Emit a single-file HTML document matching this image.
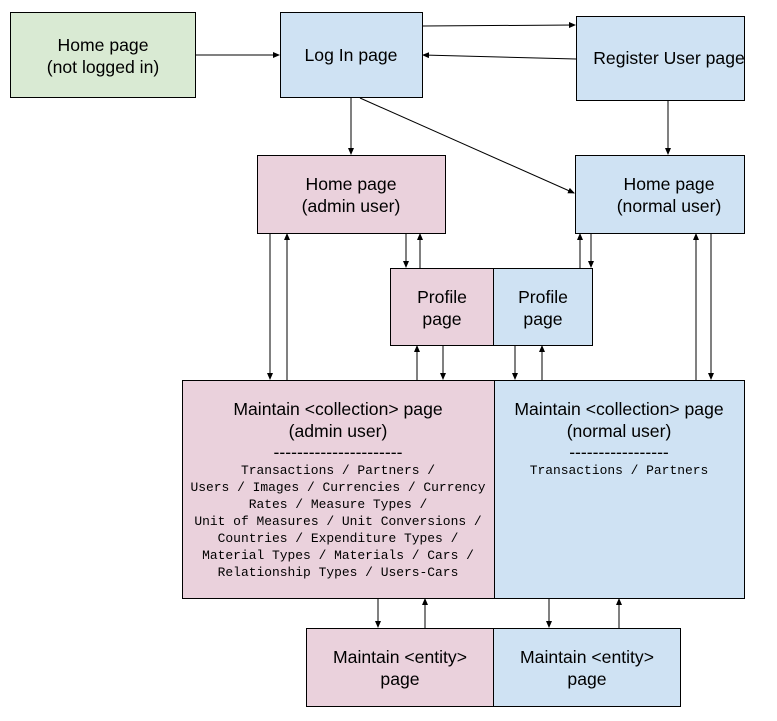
<!DOCTYPE html>
<html><head><meta charset="utf-8"><style>body{margin:0;background:#fff}svg{display:block}</style></head><body>
<svg width="777" height="721" xmlns="http://www.w3.org/2000/svg" font-family="Liberation Sans, sans-serif" font-size="17.6">
<defs><marker id="a" markerWidth="7" markerHeight="6" refX="6" refY="3" orient="auto" markerUnits="userSpaceOnUse"><path d="M0,0L7,3L0,6z" fill="#000"/></marker></defs>
<g stroke="#000" stroke-width="1">
<rect x="10.5" y="12.5" width="185" height="85" fill="#d9ead3"/>
<rect x="280.5" y="12.5" width="142" height="85" fill="#cfe2f3"/>
<rect x="576.5" y="16.5" width="168" height="84" fill="#cfe2f3"/>
<rect x="257.5" y="155.5" width="188" height="78" fill="#ead1dc"/>
<rect x="575.5" y="155.5" width="169" height="78" fill="#cfe2f3"/>
<rect x="390.5" y="268.5" width="103" height="77" fill="#ead1dc"/>
<rect x="493.5" y="268.5" width="99" height="77" fill="#cfe2f3"/>
<rect x="182.5" y="380.5" width="312" height="218" fill="#ead1dc"/>
<rect x="494.5" y="380.5" width="250" height="218" fill="#cfe2f3"/>
<rect x="306.5" y="628.5" width="187" height="78" fill="#ead1dc"/>
<rect x="493.5" y="628.5" width="187" height="78" fill="#cfe2f3"/>
</g>
<g stroke="#000" stroke-width="1" marker-end="url(#a)" fill="none">
<line x1="196" y1="55" x2="279" y2="55"/>
<line x1="423" y1="26" x2="575" y2="25"/>
<line x1="576" y1="59" x2="423" y2="55"/>
<line x1="351" y1="98" x2="351" y2="154"/>
<line x1="360" y1="98" x2="574" y2="193"/>
<line x1="668" y1="101" x2="668" y2="154"/>
<line x1="270" y1="234" x2="270" y2="379"/>
<line x1="287" y1="380" x2="287" y2="234"/>
<line x1="406" y1="234" x2="406" y2="267"/>
<line x1="420" y1="268" x2="420" y2="234"/>
<line x1="580" y1="268" x2="580" y2="234"/>
<line x1="591" y1="234" x2="591" y2="267"/>
<line x1="696" y1="380" x2="696" y2="234"/>
<line x1="711" y1="234" x2="711" y2="379"/>
<line x1="417" y1="380" x2="417" y2="346"/>
<line x1="443" y1="346" x2="443" y2="379"/>
<line x1="515" y1="346" x2="515" y2="379"/>
<line x1="542" y1="380" x2="542" y2="346"/>
<line x1="378" y1="599" x2="378" y2="627"/>
<line x1="425" y1="628" x2="425" y2="599"/>
<line x1="549" y1="599" x2="549" y2="627"/>
<line x1="619" y1="628" x2="619" y2="599"/>
</g>
<g text-anchor="middle" fill="#000">
<text x="103" y="51">Home page</text><text x="103" y="73">(not logged in)</text>
<text x="351" y="61">Log In page</text>
<text x="669" y="64">Register User page</text>
<text x="351" y="190">Home page</text><text x="351" y="212">(admin user)</text>
<text x="669" y="190">Home page</text><text x="669" y="212">(normal user)</text>
<text x="442" y="303">Profile</text><text x="442" y="325">page</text>
<text x="543" y="303">Profile</text><text x="543" y="325">page</text>
<text x="338" y="415">Maintain &lt;collection&gt; page</text><text x="338" y="437">(admin user)</text><text x="338" y="458">----------------------</text>
<text x="619" y="415">Maintain &lt;collection&gt; page</text><text x="619" y="437">(normal user)</text><text x="619" y="458">-----------------</text>
<g font-family="Liberation Mono, monospace" font-size="12.95">
<text x="338" y="474">Transactions / Partners /</text>
<text x="338" y="491">Users / Images / Currencies / Currency</text>
<text x="338" y="508">Rates / Measure Types /</text>
<text x="338" y="525">Unit of Measures / Unit Conversions /</text>
<text x="338" y="542">Countries / Expenditure Types /</text>
<text x="338" y="559">Material Types / Materials / Cars /</text>
<text x="338" y="576">Relationship Types / Users-Cars</text>
<text x="619" y="474">Transactions / Partners</text>
</g>
<text x="400" y="663">Maintain &lt;entity&gt;</text><text x="400" y="685">page</text>
<text x="587" y="663">Maintain &lt;entity&gt;</text><text x="587" y="685">page</text>
</g>
</svg>
</body></html>
